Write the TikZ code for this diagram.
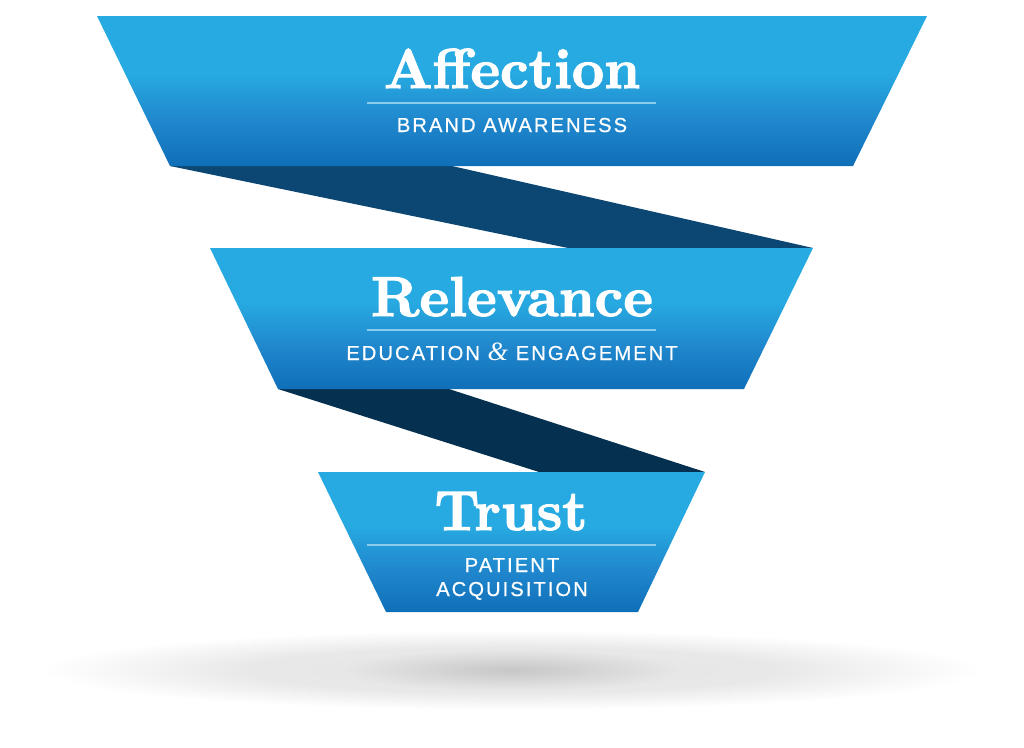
\documentclass[tikz,border=0pt]{standalone}
\usepackage{fontspec}

\newfontfamily\titlefont{lmroman10-bold}[Extension=.otf, FakeBold=2]
\newfontfamily\capsfont{Liberation Sans}[LetterSpace=10, FakeBold=0.6]
\newfontfamily\ampfont{Liberation Serif Italic}

\definecolor{bandtop}{HTML}{27AAE1}
\definecolor{bandmid}{HTML}{2087CD}
\definecolor{bandbot}{HTML}{0F6FB8}
\definecolor{ribbonA}{HTML}{0C4773}
\definecolor{ribbonB}{HTML}{06304F}
\definecolor{rulecol}{HTML}{8ACBEE}

% bounding box of a path = 25bp..75bp of the shading
\pgfdeclareverticalshading{bandshade}{100bp}{color(0bp)=(bandbot); color(25bp)=(bandbot); color(40bp)=(bandmid); color(56bp)=(bandtop); color(100bp)=(bandtop)}
\pgfdeclareradialshading{wideshadow}{\pgfpointorigin}{color(0bp)=(black!10); color(14bp)=(black!9); color(25bp)=(white); color(50bp)=(white)}
\pgfdeclareradialshading{coreshadow}{\pgfpointorigin}{color(0bp)=(black!22); color(10bp)=(black!17); color(25bp)=(black!9); color(50bp)=(black!9)}

\begin{document}
\begin{tikzpicture}[x=0.02cm, y=-0.02cm,
  band/.style={shade, shading=bandshade},
  ribbon/.style={draw=none},
  title/.style={font=\titlefont\fontsize{32}{32}\selectfont, text=white, anchor=base, inner sep=0pt},
  sub/.style={font=\capsfont\fontsize{11.5}{11.5}\selectfont, text=white, anchor=base, inner sep=0pt},
  divider/.style={draw=rulecol, line width=0.6pt}
]
\useasboundingbox (0,0) rectangle (1024,747);

% ==================== shadow ====================
\shade[shading=wideshadow] (512,670) ellipse [x radius=470, y radius=40];
\shade[shading=coreshadow] (512,670) ellipse [x radius=175, y radius=21];

% ==================== ribbons ====================
\fill[ribbon, ribbonA] (170,166) -- (452,166) -- (813,248) -- (568,248) -- cycle;
\fill[ribbon, ribbonB] (278,389) -- (449,389) -- (705,472) -- (539,472) -- cycle;

% ==================== bands ====================
\shade[band] (97,16) -- (927,16) -- (853,166) -- (170,166) -- cycle;
\shade[band] (210,248) -- (813,248) -- (744,389) -- (278,389) -- cycle;
\shade[band] (318,472) -- (705,472) -- (638,612) -- (386,612) -- cycle;

% ==================== texts ====================
\node[title] (affection) at (512,88) {Affection};
\draw[divider] (367,103) -- (656,103);
\node[sub] (awareness) at (512,132) {BRAND AWARENESS};

\node[title] (relevance) at (512,316) {Relevance};
\draw[divider] (367,330) -- (656,330);
\node[sub] (engagement) at (512,360) {EDUCATION {\ampfont\fontsize{15}{15}\selectfont\&} ENGAGEMENT};

\node[title] (trust) at (511,530) {Trust};
\draw[divider] (367,545) -- (656,545);
\node[sub] (patient) at (512,572) {PATIENT};
\node[sub] (acquisition) at (512,596) {ACQUISITION};

\end{tikzpicture}
\end{document}
